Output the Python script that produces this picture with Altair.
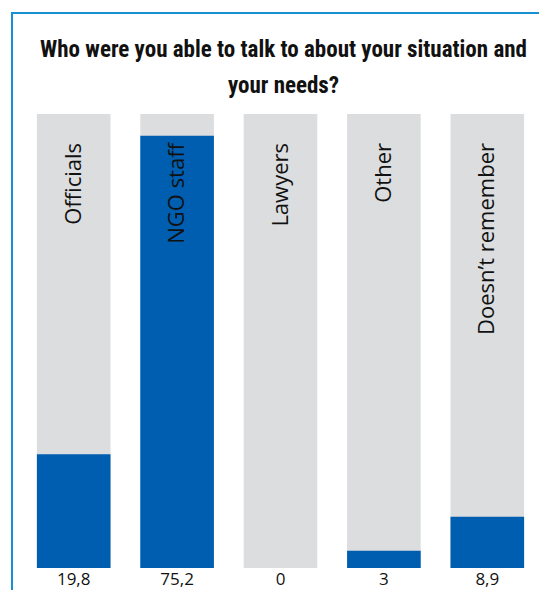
import altair as alt
import pandas as pd

categories = ["Officials", "NGO staff", "Lawyers", "Other", "Doesn\u2019t remember"]
values = [19.8, 75.2, 0, 3, 8.9]
value_labels = ["19,8", "75,2", "0", "3", "8,9"]
title_lines = ["Who were you able to talk to about your situation and", "your needs?"]

df = pd.DataFrame({"cat": categories, "val": values, "lab": value_labels})

W, H = 517, 454
BLUE = "#005eb0"
GREY = "#dcdddf"
FRAME = "#1590d0"
TFONT = "Liberation Sans Narrow, Roboto Condensed, DejaVu Sans Condensed, sans-serif"

xenc = alt.X("cat:N", sort=categories, axis=None,
             scale=alt.Scale(paddingInner=0.288, paddingOuter=0.144))
yscale = alt.Scale(domain=[0, 79])

base = alt.Chart(df)

bg = base.mark_bar(color=GREY).encode(x=xenc, y=alt.value(0), y2=alt.value(H))
fg = base.mark_bar(color=BLUE).encode(
    x=xenc, y=alt.Y("val:Q", scale=yscale, axis=None), y2=alt.value(H))

names = base.mark_text(angle=270, align="right", baseline="middle",
                       font="Open Sans", fontSize=22, color="#111111", dx=1).encode(
    x=xenc, y=alt.value(30), text="cat:N")

nums = base.mark_text(align="center", baseline="middle",
                      font="Open Sans", fontSize=17, color="#111111").encode(
    x=xenc, y=alt.value(H + 12), text="lab:N")

one = alt.Chart(pd.DataFrame({"k": [0]}))
t1 = one.mark_text(text=title_lines[0], font=TFONT, fontSize=23, fontWeight="bold",
                   align="center", baseline="alphabetic", color="#111111").encode(
    x=alt.value(W / 2 + 3), y=alt.value(-57))
t2 = one.mark_text(text=title_lines[1], font=TFONT, fontSize=23, fontWeight="bold",
                   align="center", baseline="alphabetic", color="#111111").encode(
    x=alt.value(W / 2 + 3), y=alt.value(-21))

frame_top = one.mark_rule(color=FRAME, strokeWidth=2).encode(
    x=alt.value(-10), x2=alt.value(W + 20), y=alt.value(-101))
frame_left = one.mark_rule(color=FRAME, strokeWidth=2).encode(
    x=alt.value(-10), y=alt.value(-102), y2=alt.value(H + 40))

chart = alt.layer(bg, fg, names, nums, t1, t2, frame_top, frame_left).properties(
    width=W, height=H,
    autosize=alt.AutoSizeParams(type="none"),
    padding={"left": 14, "top": 106, "right": 0, "bottom": 22},
).configure_view(stroke=None)

chart.save("out.html", embed_options={"renderer": "svg", "actions": False})
